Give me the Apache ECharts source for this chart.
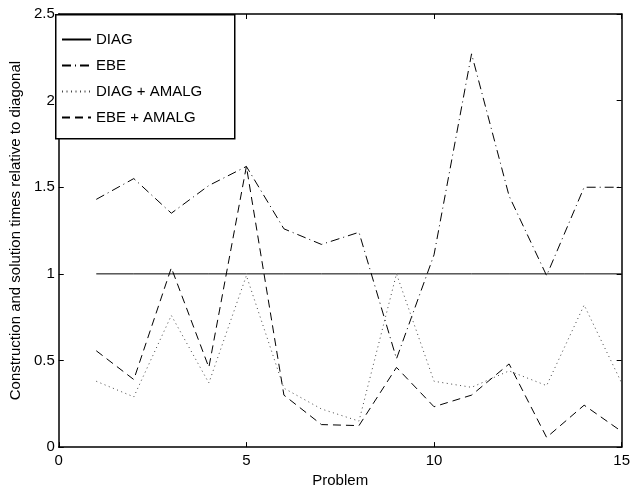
<!DOCTYPE html>
<html>
<head>
<meta charset="utf-8">
<script src="https://cdn.jsdelivr.net/npm/echarts@6/dist/echarts.min.js"></script>
<style>html,body{margin:0;padding:0;background:#fff}#c{width:633px;height:493px}</style>
</head>
<body>
<div id="c"></div>
<script>
var problems = [1,2,3,4,5,6,7,8,9,10,11,12,13,14,15];
var diag      = [1,1,1,1,1,1,1,1,1,1,1,1,1,1,1];
var ebe       = [1.43,1.55,1.35,1.51,1.62,1.26,1.17,1.24,0.51,1.11,2.27,1.45,0.99,1.50,1.50];
var diagAmalg = [0.38,0.29,0.76,0.37,0.99,0.34,0.22,0.15,1.00,0.38,0.345,0.44,0.355,0.82,0.37];
var ebeAmalg  = [0.556,0.39,1.035,0.46,1.62,0.30,0.13,0.124,0.46,0.233,0.30,0.48,0.056,0.242,0.09];
var xTicks = [0,5,10,15];
var yTicks = [0,0.5,1,1.5,2,2.5];

function pairs(v){ return problems.map(function(p,i){ return [p, v[i]]; }); }

var FONT = 'Liberation Sans, Arial, sans-serif';
var chart = echarts.init(document.getElementById('c'), null, {renderer:'canvas'});
var axisCommon = {
  axisLine:{show:true, onZero:false, lineStyle:{color:'#000', width:1.5}},
  axisTick:{show:true, inside:true, length:5, lineStyle:{color:'#000', width:1}},
  splitLine:{show:false}
};
function mk(name, data, type, color){
  return {name:name, type:'line', data:pairs(data), symbol:'none', showSymbol:false, animation:false,
    lineStyle:{color:color || '#000', width:1, type:type}, itemStyle:{color:color || '#000'}};
}
chart.setOption({
  backgroundColor:'#fff',
  animation:false,
  grid:{left:55, right:7, top:14, bottom:35, containLabel:false},
  xAxis:[
    Object.assign({type:'value', min:xTicks[0], max:xTicks[xTicks.length-1], interval:5, position:'bottom',
      name:'Problem', nameLocation:'middle', nameGap:22,
      nameTextStyle:{color:'#000', fontSize:15, fontFamily:FONT},
      axisLabel:{color:'#000', fontSize:15, fontFamily:FONT, margin:6}}, axisCommon),
    Object.assign({type:'value', min:0, max:15, interval:5, position:'top', axisLabel:{show:false}}, axisCommon)
  ],
  yAxis:[
    Object.assign({type:'value', min:yTicks[0], max:yTicks[yTicks.length-1], interval:0.5, position:'left',
      name:'Construction and solution times relative to diagonal', nameLocation:'middle', nameGap:28,
      nameTextStyle:{color:'#000', fontSize:15, fontFamily:FONT},
      axisLabel:{color:'#000', fontSize:15, fontFamily:FONT, margin:4}}, axisCommon),
    Object.assign({type:'value', min:0, max:2.5, interval:0.5, position:'right', axisLabel:{show:false}}, axisCommon)
  ],
  graphic:[{type:'rect', left:55, top:14, shape:{width:179, height:124}, z:3,
    style:{fill:'#fff', stroke:'#000', lineWidth:1.5}}],
  legend:{orient:'vertical', left:55, top:14, padding:[18,6,17,6], itemGap:11, itemWidth:29, itemHeight:14,
    z:4, textStyle:{color:'#000', fontSize:15, fontFamily:FONT},
    itemStyle:{color:'rgba(0,0,0,0)', borderWidth:0, opacity:0},
    data:['DIAG','EBE','DIAG + AMALG','EBE + AMALG']},
  series:[
    mk('DIAG', diag, 'solid'),
    mk('EBE', ebe, [9,4,1,4]),
    mk('DIAG + AMALG', diagAmalg, [1,3.5], '#444'),
    mk('EBE + AMALG', ebeAmalg, [8,5])
  ]
});
</script>
</body>
</html>
